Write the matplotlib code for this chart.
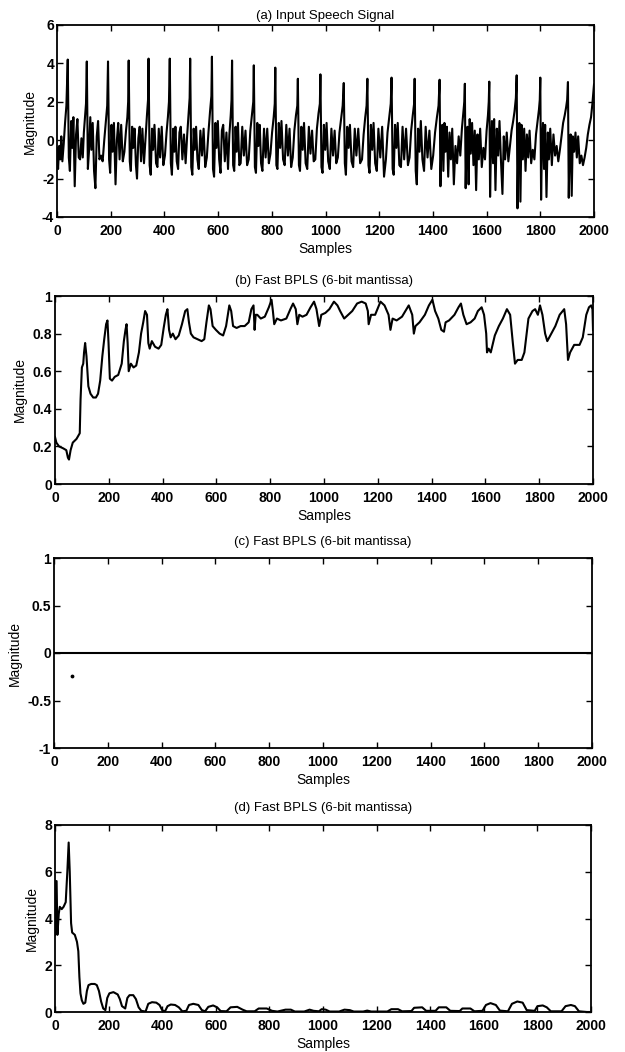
import matplotlib
matplotlib.use("Agg")
import matplotlib.pyplot as plt

plt.rcParams['font.family'] = ['Liberation Sans', 'DejaVu Sans']

# ---------------- data ----------------
x_ticks = [0, 200, 400, 600, 800, 1000, 1200, 1400, 1600, 1800, 2000]
x_ticklabels = ['0', '200', '400', '600', '800', '1000', '1200', '1400', '1600', '1800', '2000']

titles = ['(a) Input Speech Signal', '(b) Fast BPLS (6-bit mantissa)',
          '(c) Fast BPLS (6-bit mantissa)', '(d) Fast BPLS (6-bit mantissa)']
x_label = 'Samples'
y_label = 'Magnitude'

a_yticks = [-4, -2, 0, 2, 4, 6]
a_yticklabels = ['-4', '-2', '0', '2', '4', '6']
b_yticks = [0, 0.2, 0.4, 0.6, 0.8, 1.0]
b_yticklabels = ['0', '0.2', '0.4', '0.6', '0.8', '1']
c_yticks = [-1, -0.5, 0, 0.5, 1]
c_yticklabels = ['-1', '-0.5', '0', '0.5', '1']
d_yticks = [0, 2, 4, 6, 8]
d_yticklabels = ['0', '2', '4', '6', '8']

# (a) input speech signal, vertices
a1_x = [0, 4, 8, 12, 16, 20, 25, 30, 35, 40,
        44, 48, 53, 57, 61, 66, 71, 76, 81, 86, 91, 96, 100, 105, 108, 111,
        115, 119, 124, 128, 133, 138, 143, 148, 153, 158, 164, 170, 176, 182, 187, 190,
        194, 198, 203, 207, 212, 218, 223, 228, 233, 239, 245, 251, 257, 262, 265, 267,
        271, 275, 280, 284, 289, 294, 298, 303, 308, 313, 318, 324, 330, 335, 339, 341,
        345, 349, 354, 358, 363, 369, 374, 379, 384, 390, 396, 402, 408, 413, 417, 420]
a1_y = [-0.4, -1.5, -0.3, -1.0, 0.2, -1.1, -0.2, 0.9, 1.8, 4.2,
        -0.9, -1.6, 1.0, -0.4, 1.2, -2.4, 0.3, 1.1, -0.9, -1.0, 0.1, -0.9, 0.4, 1.3, 1.9, 4.1,
        -1.5, -0.6, 1.2, -0.5, 0.9, -1.6, -2.5, 0.2, 1.0, -1.0, -0.8, -1.1, 0.0, 1.0, 1.8, 4.1,
        -1.0, -1.7, 0.8, -0.6, 0.9, -2.3, 0.0, 0.9, -1.0, 0.8, -1.1, -0.6, 0.5, 1.2, 2.0, 4.15,
        -1.1, -1.6, 0.7, -0.4, 0.6, -1.3, -2.0, 0.1, 0.7, -1.1, 0.6, -1.2, 0.2, 1.3, 2.1, 4.25,
        -1.3, -1.8, 0.6, -0.5, 0.8, -1.2, -1.4, 0.6, -0.9, 0.7, -1.3, -0.8, 0.4, 1.2, 2.0, 4.25]
a2_x = [424, 428, 433, 437, 441, 446, 451, 456, 461, 467, 473, 479, 485, 490, 494, 496,
        500, 504, 509, 513, 518, 523, 528, 534, 540, 546, 552, 558, 564, 570, 575, 577,
        581, 585, 590, 594, 599, 604, 609, 614, 619, 625, 631, 637, 642, 647, 650, 652,
        656, 660, 665, 669, 674, 679, 684, 690, 696, 702, 708, 714, 720, 726, 731, 733,
        737, 741, 746, 750, 755, 760, 765, 771, 777, 783, 789, 795, 801, 807, 811, 813,
        817, 821, 826, 831, 836, 842, 848, 854, 860, 866, 872, 878, 884, 890, 895, 897,
        901, 905, 910, 915, 920, 926, 932, 938, 944, 950, 956, 962, 968, 974, 979, 981]
a2_y = [-1.2, -1.8, 0.6, -0.6, 0.7, -1.1, -1.5, 0.4, 0.7, -1.0, 0.3, -1.2, 0.3, 1.4, 2.2, 4.25,
        -1.4, -1.8, 0.6, -0.5, 0.7, -1.0, -1.5, 0.5, -0.8, 0.6, -1.4, -0.9, 0.4, 1.5, 2.3, 4.35,
        -1.5, -1.9, 0.9, -0.4, 1.0, -1.0, -1.7, 0.5, 0.8, -1.1, 0.4, -1.5, 0.3, 1.3, 2.1, 4.15,
        -1.3, -1.6, 0.7, -0.6, 0.9, -1.3, -1.2, 0.7, -0.8, 0.5, -1.3, -1.0, 0.5, 1.3, 2.0, 3.9,
        -1.4, -1.7, 0.9, -0.3, 0.8, -1.2, -1.6, 0.6, -0.9, 0.6, -1.2, -0.7, 0.4, 1.2, 1.9, 3.78,
        -1.3, -1.5, 0.9, -0.4, 1.0, -1.0, -1.3, 0.8, -0.8, 0.6, -1.4, -0.9, 0.5, 1.3, 1.8, 3.2,
        -1.3, -1.6, 0.7, -0.5, 0.9, -1.2, -1.5, 0.7, -0.7, 0.5, -1.1, -1.0, 0.6, 1.4, 1.9, 3.43]
a3_x = [985, 989, 994, 999, 1004, 1010, 1016, 1022, 1028, 1034, 1040, 1046, 1052, 1058, 1064, 1068,
        1072, 1076, 1081, 1086, 1091, 1097, 1103, 1109, 1115, 1122, 1129, 1136, 1142, 1148, 1153, 1156,
        1160, 1164, 1169, 1174, 1179, 1185, 1191, 1197, 1204, 1211, 1218, 1225, 1231, 1238, 1243, 1246,
        1250, 1254, 1259, 1264, 1269, 1275, 1281, 1287, 1293, 1300, 1307, 1313, 1319, 1325, 1330, 1332,
        1336, 1340, 1345, 1350, 1355, 1361, 1367, 1373, 1380, 1387, 1394, 1401, 1408, 1415, 1421, 1425,
        1428, 1431, 1435, 1439, 1443, 1447, 1452, 1457, 1462, 1467, 1472, 1478, 1484, 1490, 1496, 1502,
        1508, 1513, 1517, 1519]
a3_y = [-1.4, -1.7, 0.8, -0.5, 0.9, -1.1, -1.5, 0.6, -0.8, 0.5, -1.2, -0.9, 0.4, 1.1, 1.8, 2.98,
        -1.2, -1.8, 0.7, -0.4, 0.8, -1.1, -1.4, 0.6, -0.8, 0.6, -1.2, -1.0, 0.3, 1.2, 1.8, 3.2,
        -1.3, -1.7, 0.8, -0.5, 0.9, -1.2, -1.6, 0.6, -0.9, 0.7, -1.9, -1.0, 0.4, 1.3, 1.9, 3.26,
        -1.5, -1.8, 0.8, -0.4, 0.9, -1.3, -1.4, 0.7, -1.0, 0.6, -1.3, -0.9, 0.5, 1.3, 1.9, 3.2,
        -1.6, -2.3, 0.6, -0.6, 1.0, -1.0, -1.6, 0.7, -0.9, 0.5, -1.5, -0.8, 0.4, 1.2, 1.8, 3.15,
        -2.4, -0.5, 0.8, -1.6, 0.9, -0.6, 0.7, -1.9, 0.4, -1.0, 0.6, -2.3, -0.3, -1.2, 0.2, -0.8,
        0.6, 1.4, 2.0, 2.94]
a4_x = [1522, 1525, 1529, 1533, 1537, 1541, 1546, 1551, 1556, 1561, 1566, 1571, 1576, 1582, 1588,
        1594, 1600, 1605, 1608, 1610,
        1613, 1616, 1620, 1624, 1628, 1633, 1638, 1643, 1648, 1653, 1659, 1664, 1669, 1675, 1681,
        1687, 1693, 1699, 1704, 1709, 1712,
        1715, 1718, 1722, 1726, 1730, 1735, 1740, 1745, 1750, 1755, 1760, 1766, 1772, 1778, 1784,
        1790, 1795, 1798, 1800,
        1803, 1806, 1810, 1814, 1818, 1823, 1828, 1832, 1837, 1843, 1849, 1855, 1861, 1867, 1873,
        1879, 1885, 1891, 1896, 1900, 1903,
        1906, 1909, 1913, 1917, 1921, 1926, 1931, 1936, 1941, 1947, 1953, 1959, 1965, 1971, 1977,
        1983, 1989, 1994, 2000]
a4_y = [-2.5, -0.4, 0.7, -2.3, 1.1, -0.7, 0.9, -1.3, 0.5, -2.6, 0.3, -1.0, 0.6, -1.4, -0.4,
        -1.0, 0.5, 1.3, 2.0, 3.05,
        -2.95, -0.6, 1.0, -1.2, 1.1, -2.6, 0.6, -0.8, 1.0, -0.9, -2.8, 0.2, -1.0, 0.4, -1.1,
        -0.3, 0.5, 1.0, 1.5, 2.2, 3.38,
        -3.55, -0.5, 0.9, -3.2, 0.8, -1.0, 0.6, -1.6, 0.3, -0.9, 0.5, -1.2, -0.5, -1.0, 0.3,
        1.0, 1.6, 2.1, 3.26,
        -3.1, -0.4, 0.9, -1.5, 0.8, -2.96, 0.4, -1.0, 0.6, -1.3, 0.3, -0.8, -0.3, -1.1, -0.5,
        0.2, 0.9, 1.3, 1.7, 2.1, 3.03,
        -3.0, -0.5, 0.3, -2.9, 0.2, -0.6, 0.4, -0.9, 0.2, -1.2, -0.8, -1.3, -0.9, -0.4, 0.3,
        0.8, 1.2, 1.9, 2.9]

# (b) Fast BPLS output
b_x = [0, 5, 15, 30, 42, 48, 52, 58, 66, 80, 92, 95, 100, 105, 108, 112, 117, 124, 132, 142,
       152, 160, 168, 176, 183, 190, 195, 199, 204, 212, 222, 235, 248, 256, 262, 266, 270, 274,
       282, 292, 302, 312, 320, 328, 335, 342, 347, 352, 360, 372, 385, 395, 404, 412, 418, 424,
       430, 438, 448, 460, 472, 484, 492, 498, 505, 515, 530, 545, 555, 563, 572, 578, 586, 598,
       612, 625, 636, 648, 655, 662, 675, 690, 705, 720, 730, 738, 742, 746, 752, 765, 780, 795,
       805, 810, 815, 825, 840, 860, 875, 885, 895, 901, 908, 920, 935, 950, 963, 972, 982, 990,
       1005, 1020, 1037, 1050, 1060, 1075, 1090, 1105, 1123, 1140, 1155, 1163, 1166, 1175, 1190,
       1210, 1225, 1240, 1247, 1255, 1270, 1290, 1315, 1328, 1334, 1340, 1355, 1375, 1390, 1403,
       1413, 1425, 1436, 1446, 1452, 1465, 1485, 1500, 1509, 1518, 1530, 1545, 1560, 1572, 1586,
       1595, 1603, 1606, 1612, 1620, 1635, 1650, 1665, 1680, 1692, 1702, 1710, 1720, 1735, 1745,
       1760, 1775, 1785, 1795, 1803, 1812, 1822, 1830, 1845, 1860, 1876, 1893, 1900, 1907, 1915,
       1930, 1950, 1962, 1975, 1985, 1993, 1998, 2000]
b_y = [0.25, 0.22, 0.2, 0.19, 0.18, 0.14, 0.13, 0.18, 0.22, 0.24, 0.27, 0.45, 0.62, 0.64, 0.7,
       0.75, 0.68, 0.52, 0.48, 0.46,
       0.46, 0.48, 0.55, 0.68, 0.77, 0.85, 0.87, 0.75, 0.56, 0.55, 0.57, 0.58, 0.64, 0.76, 0.82,
       0.85, 0.75, 0.6,
       0.64, 0.62, 0.63, 0.7, 0.8, 0.86, 0.92, 0.9, 0.75, 0.72, 0.76, 0.73, 0.72, 0.74, 0.83, 0.9,
       0.93, 0.82,
       0.78, 0.8, 0.77, 0.79, 0.85, 0.92, 0.93, 0.86, 0.8, 0.78, 0.77, 0.76, 0.77, 0.86, 0.95,
       0.93, 0.84, 0.82,
       0.8, 0.79, 0.84, 0.95, 0.92, 0.84, 0.83, 0.84, 0.84, 0.86, 0.93, 0.95, 0.82, 0.9, 0.9,
       0.88, 0.89, 0.94,
       0.98, 0.92, 0.85, 0.88, 0.87, 0.88, 0.93, 0.96, 0.93, 0.85, 0.9, 0.89, 0.9, 0.94, 0.97,
       0.93, 0.84, 0.9,
       0.91, 0.93, 0.97, 0.95, 0.92, 0.88, 0.9, 0.92, 0.96, 0.97, 0.96, 0.92, 0.85, 0.9, 0.9,
       0.97, 0.95, 0.9, 0.82, 0.88, 0.87, 0.89, 0.95, 0.9, 0.8, 0.84, 0.86, 0.9, 0.95, 0.98,
       0.92, 0.88, 0.82, 0.81, 0.86, 0.87, 0.9, 0.94, 0.96, 0.9, 0.85, 0.86, 0.88, 0.92, 0.94,
       0.9, 0.8, 0.7, 0.72, 0.7, 0.79, 0.84, 0.88, 0.93, 0.9, 0.75, 0.64, 0.66, 0.66, 0.7,
       0.88, 0.92, 0.93, 0.9, 0.95, 0.9, 0.8, 0.76, 0.8, 0.84, 0.9, 0.93, 0.85, 0.66, 0.7,
       0.74, 0.74, 0.78, 0.9, 0.94, 0.95, 0.93, 0.82]

# (c) Fast BPLS output: flat line and one stray point
c_x = [0, 2000]
c_y = [0.0, 0.0]
c_pt_x = [66]
c_pt_y = [-0.24]

# (d) Fast BPLS output
d_x = [0, 3, 6, 9, 14, 18, 25, 32, 40, 46, 51, 55, 60, 64, 74, 82, 87, 91, 95, 100, 106, 113,
       119, 125, 135, 148, 156, 164, 172, 180, 188, 195, 203, 218, 234, 242, 250, 262, 270, 278,
       292, 302, 312, 322, 338, 348, 362, 378, 390, 400, 410, 420, 432, 448, 462, 475, 490, 500,
       516, 535, 548, 560, 572, 590, 605, 618, 640, 655, 680, 700, 715, 745, 760, 790, 810, 830,
       860, 880, 895, 930, 950, 965, 985, 995, 1010, 1025, 1060, 1080, 1100, 1115, 1150, 1165,
       1180, 1240, 1255, 1280, 1295, 1330, 1340, 1370, 1385, 1420, 1432, 1460, 1475, 1510, 1520,
       1550, 1565, 1595, 1608, 1625, 1645, 1660, 1690, 1705, 1725, 1745, 1760, 1790, 1800, 1820,
       1835, 1850, 1890, 1905, 1925, 1940, 1955, 1985, 2000]
d_y = [3.3, 5.6, 5.6, 3.3, 4.2, 4.5, 4.4, 4.5, 4.7, 6.0, 7.25, 6.0, 3.8, 3.4, 3.3, 3.0, 2.6,
       1.5, 0.8, 0.5, 0.35, 0.4,
       0.9, 1.15, 1.2, 1.2, 1.15, 0.9, 0.45, 0.15, 0.08, 0.6, 0.8, 0.85, 0.75, 0.55, 0.25, 0.15,
       0.6, 0.72,
       0.72, 0.55, 0.2, 0.05, 0.02, 0.35, 0.42, 0.4, 0.3, 0.08, 0.02, 0.25, 0.32, 0.3, 0.2, 0.03,
       0.05, 0.3,
       0.35, 0.3, 0.08, 0.03, 0.22, 0.28, 0.2, 0.04, 0.03, 0.2, 0.22, 0.1, 0.03, 0.03, 0.15,
       0.15, 0.05, 0.02,
       0.1, 0.1, 0.02, 0.02, 0.1, 0.05, 0.03, 0.12, 0.1, 0.02, 0.02, 0.1, 0.08, 0.02, 0.02, 0.06,
       0.02, 0.02, 0.12, 0.12, 0.03, 0.04, 0.18, 0.2, 0.05, 0.05, 0.2, 0.2, 0.05, 0.04, 0.15,
       0.15, 0.03, 0.05, 0.3, 0.38, 0.3, 0.06, 0.03, 0.35, 0.45, 0.4, 0.08, 0.05, 0.25, 0.28,
       0.2, 0.03, 0.03, 0.25, 0.3, 0.25, 0.03, 0.0, 0.0]

# ---------------- figure ----------------
W, H = 625, 1052
fig = plt.figure(figsize=(W / 100, H / 100), dpi=100)

def px_axes(left, right, top, bottom):
    return fig.add_axes([left / W, 1 - bottom / H, (right - left) / W, (bottom - top) / H])

axes = [px_axes(57, 594, 25, 217),
        px_axes(55, 593, 296, 484),
        px_axes(54, 592, 558, 748),
        px_axes(55, 591, 825, 1012)]

lw = 1.5
axes[0].plot(a1_x + a2_x + a3_x + a4_x, a1_y + a2_y + a3_y + a4_y, color='black', lw=lw)
axes[1].plot(b_x, b_y, color='black', lw=lw)
axes[2].plot(c_x, c_y, color='black', lw=lw)
axes[2].plot(c_pt_x, c_pt_y, 'k.', ms=3.5)
axes[3].plot(d_x, d_y, color='black', lw=lw)

ylims = [(-4, 6), (0, 1), (-1, 1), (0, 8)]
yticks = [a_yticks, b_yticks, c_yticks, d_yticks]
yticklabels = [a_yticklabels, b_yticklabels, c_yticklabels, d_yticklabels]
title_pads = [4, 9, 9, 10]

for ax, yl, yt, ytl, title, tp in zip(axes, ylims, yticks, yticklabels, titles, title_pads):
    ax.set_xlim(0, 2000)
    ax.set_ylim(*yl)
    ax.set_xticks(x_ticks)
    ax.set_xticklabels(x_ticklabels, fontsize=10, fontweight='bold')
    ax.set_yticks(yt)
    ax.set_yticklabels(ytl, fontsize=10, fontweight='bold')
    ax.tick_params(direction='in', length=4, width=1.0, top=True, right=True)
    ax.tick_params(axis='x', pad=5)
    ax.tick_params(axis='y', pad=2)
    for s in ax.spines.values():
        s.set_linewidth(1.3)
    ax.set_title(title, fontsize=9.5, pad=tp)
    ax.set_xlabel(x_label, fontsize=10, labelpad=3)
    ax.set_ylabel(y_label, fontsize=10, labelpad=4)

fig.savefig('out.png', dpi=100, facecolor='white')
